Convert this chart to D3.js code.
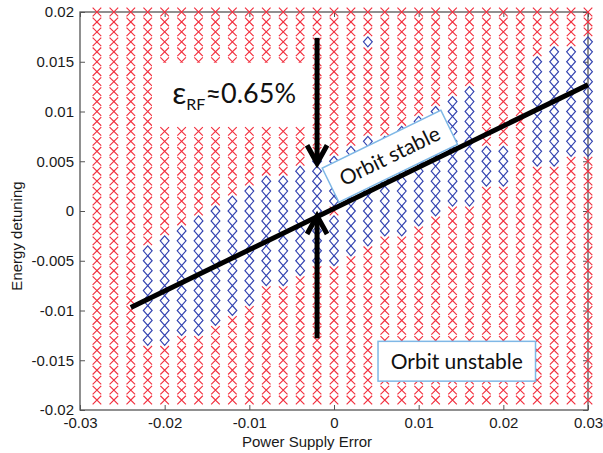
<!DOCTYPE html>
<html><head><meta charset="utf-8">
<script src="https://cdn.jsdelivr.net/npm/d3@7"></script>
<style>body{margin:0;background:#fff}svg{display:block}</style>
</head><body><svg id="c" width="603" height="453"></svg>
<script>
// ---- data ----
const xColumns = [-0.028,-0.026,-0.024,-0.022,-0.020,-0.018,-0.016,-0.014,-0.012,-0.010,
                  -0.008,-0.006,-0.004,-0.002,0.000,0.002,0.004,0.006,0.008,0.010,
                   0.012,0.014,0.016,0.018,0.020,0.022,0.024,0.026,0.028,0.030];
const yRows = [-0.019,-0.018,-0.017,-0.016,-0.015,-0.014,-0.013,-0.012,-0.011,-0.010,
               -0.009,-0.008,-0.007,-0.006,-0.005,-0.004,-0.003,-0.002,-0.001,0.000,
                0.001,0.002,0.003,0.004,0.005,0.006,0.007,0.008,0.009,0.010,
                0.011,0.012,0.013,0.014,0.015,0.016,0.017,0.018,0.019,0.020];
// stable (diamond) range per column: top and bottom energy detuning, null = none
const stableTop    = [null,null,null,-0.004,-0.003,-0.002,-0.001,0.000,0.001,0.002,
                      0.003,0.003,0.004,0.005,0.005,0.006,0.007,0.007,0.008,0.009,
                      0.010,0.011,0.012,0.006,0.006,null,0.015,0.016,0.016,0.017];
const stableBottom = [null,null,null,-0.013,-0.013,-0.012,-0.012,-0.011,-0.010,-0.009,
                      -0.007,-0.007,-0.006,-0.005,-0.005,-0.004,-0.003,-0.002,-0.002,-0.001,
                      0.000,0.001,0.001,0.003,0.003,null,0.005,0.005,0.006,0.006];
const extraStable = [[0.004, 0.017]];
const extraUnstable = [[0.000, 0.000]];
const xTicks = [-0.03,-0.02,-0.01,0,0.01,0.02,0.03];
const xTickLabels = ["-0.03","-0.02","-0.01","0","0.01","0.02","0.03"];
const yTicks = [-0.02,-0.015,-0.01,-0.005,0,0.005,0.01,0.015,0.02];
const yTickLabels = ["-0.02","-0.015","-0.01","-0.005","0","0.005","0.01","0.015","0.02"];
const fitLine = [[-0.024,-0.0097],[0.030,0.0127]];
const arrowDown = {x:-0.002, from:0.0174, to:0.0048};
const arrowUp = {x:-0.002, from:-0.0128, to:-0.0005};

// ---- layout ----
const W=603,H=453, m={l:80,r:15,t:12,b:43};
const svg=d3.select("#c");
const x=d3.scaleLinear().domain([-0.03,0.03]).range([m.l,W-m.r]);
const y=d3.scaleLinear().domain([-0.02,0.02]).range([H-m.b,m.t]);
const eq=(a,b)=>Math.abs(a-b)<1e-7;

const pts=[];
xColumns.forEach((cx,i)=>{
  yRows.forEach(ry=>{
    let st = stableTop[i]!==null && ry<=stableTop[i]+1e-7 && ry>=stableBottom[i]-1e-7;
    if(extraStable.some(p=>eq(p[0],cx)&&eq(p[1],ry))) st=true;
    if(extraUnstable.some(p=>eq(p[0],cx)&&eq(p[1],ry))) st=false;
    pts.push({x:cx,y:ry,st});
  });
});

// axes frame
const font="'Liberation Sans', Arial, sans-serif";
const gx=svg.append("g").attr("transform",`translate(0,${H-m.b})`)
  .call(d3.axisBottom(x).tickValues(xTicks).tickFormat((d,i)=>xTickLabels[i]).tickSizeInner(-5).tickSizeOuter(0).tickPadding(7));
const gy=svg.append("g").attr("transform",`translate(${m.l},0)`)
  .call(d3.axisLeft(y).tickValues(yTicks).tickFormat((d,i)=>yTickLabels[i]).tickSizeInner(-5).tickSizeOuter(0).tickPadding(6));
const gx2=svg.append("g").attr("transform",`translate(0,${m.t})`)
  .call(d3.axisTop(x).tickValues(xTicks).tickFormat("").tickSizeInner(-5).tickSizeOuter(0));
const gy2=svg.append("g").attr("transform",`translate(${W-m.r},0)`)
  .call(d3.axisRight(y).tickValues(yTicks).tickFormat("").tickSizeInner(-5).tickSizeOuter(0));
[gx,gy,gx2,gy2].forEach(g=>{
  g.select(".domain").remove();
  g.selectAll("line").attr("stroke","#555");
  g.selectAll("text").attr("font-family",font).attr("font-size",15).attr("fill","#1a1a1a");
});
svg.append("rect").attr("x",m.l).attr("y",m.t).attr("width",W-m.l-m.r).attr("height",H-m.t-m.b)
  .attr("fill","none").attr("stroke","#555").attr("stroke-width",1.3);

// markers
svg.append("g").selectAll("path").data(pts.filter(d=>!d.st)).join("path")
  .attr("transform",d=>`translate(${x(d.x)},${y(d.y)})`)
  .attr("d","M-4.3,-4.3L4.3,4.3M-4.3,4.3L4.3,-4.3").attr("fill","none").attr("stroke","#f2303f").attr("stroke-width",1.15);
svg.append("g").selectAll("path").data(pts.filter(d=>d.st)).join("path")
  .attr("transform",d=>`translate(${x(d.x)},${y(d.y)})`)
  .attr("d","M0,-5L4.4,0L0,5L-4.4,0Z").attr("fill","none").attr("stroke","#3343b0").attr("stroke-width",1.15);

// axis labels
svg.append("text").attr("x",307).attr("y",447).attr("text-anchor","middle")
  .attr("font-family",font).attr("font-size",15).attr("fill","#1a1a1a").text("Power Supply Error");
svg.append("text").attr("transform","translate(22,236) rotate(-90)").attr("text-anchor","middle")
  .attr("font-family",font).attr("font-size",15).attr("fill","#1a1a1a").text("Energy detuning");

// fit line
svg.append("line").attr("x1",x(fitLine[0][0])).attr("y1",y(fitLine[0][1]))
  .attr("x2",x(fitLine[1][0])).attr("y2",y(fitLine[1][1]))
  .attr("stroke","#000").attr("stroke-width",5).attr("stroke-linecap","butt");

// arrows
function arrow(a){
  const ax=x(a.x), y0=y(a.from), y1=y(a.to), dir=y1>y0?1:-1;
  const g=svg.append("g").attr("stroke","#000").attr("fill","none").attr("stroke-width",5);
  g.append("line").attr("x1",ax).attr("y1",y0).attr("x2",ax).attr("y2",y1-dir*2);
  g.append("path").attr("d",`M${ax-10},${y1-dir*18}L${ax},${y1}L${ax+10},${y1-dir*18}`)
    .attr("stroke-linejoin","miter");
}
arrow(arrowDown); arrow(arrowUp);

// epsilon annotation
const tf="Lato, 'Open Sans', sans-serif";
svg.append("rect").attr("x",x(-0.0215)).attr("y",y(0.0149)).attr("width",x(-0.0033)-x(-0.0215))
  .attr("height",y(0.0085)-y(0.0149)).attr("fill","#fff");
const et=svg.append("text").attr("x",x(-0.0191)).attr("y",y(0.0108)).attr("font-family",tf).attr("fill","#111");
et.append("tspan").attr("font-size",31).text("ε");
et.append("tspan").attr("font-size",16).attr("dy",6).text("RF");
et.append("tspan").attr("font-size",27).attr("dy",-7).text("≈0.65%");

// Orbit stable box
const ang=Math.atan2(y(fitLine[0][1])-y(fitLine[1][1]), x(fitLine[1][0])-x(fitLine[0][0]))*180/Math.PI;
const sb=svg.append("g").attr("transform",`translate(${x(0.0066)},${y(0.0055)}) rotate(${-ang})`);
sb.append("rect").attr("x",-66).attr("y",-19).attr("width",132).attr("height",38)
  .attr("fill","#fff").attr("stroke","#7fb8e6").attr("stroke-width",1.5);
sb.append("text").attr("x",0).attr("y",7).attr("text-anchor","middle").attr("font-family",tf)
  .attr("font-size",21).attr("fill","#111").text("Orbit stable");

// Orbit unstable box
const ub=svg.append("g");
ub.append("rect").attr("x",x(0.0052)).attr("y",y(-0.0131)).attr("width",x(0.0238)-x(0.0052))
  .attr("height",y(-0.0171)-y(-0.0131)).attr("fill","#fff").attr("stroke","#7fb8e6").attr("stroke-width",1.5);
ub.append("text").attr("x",(x(0.0052)+x(0.0238))/2).attr("y",y(-0.0159)).attr("text-anchor","middle")
  .attr("font-family",tf).attr("font-size",21).attr("fill","#111").text("Orbit unstable");
</script></body></html>
